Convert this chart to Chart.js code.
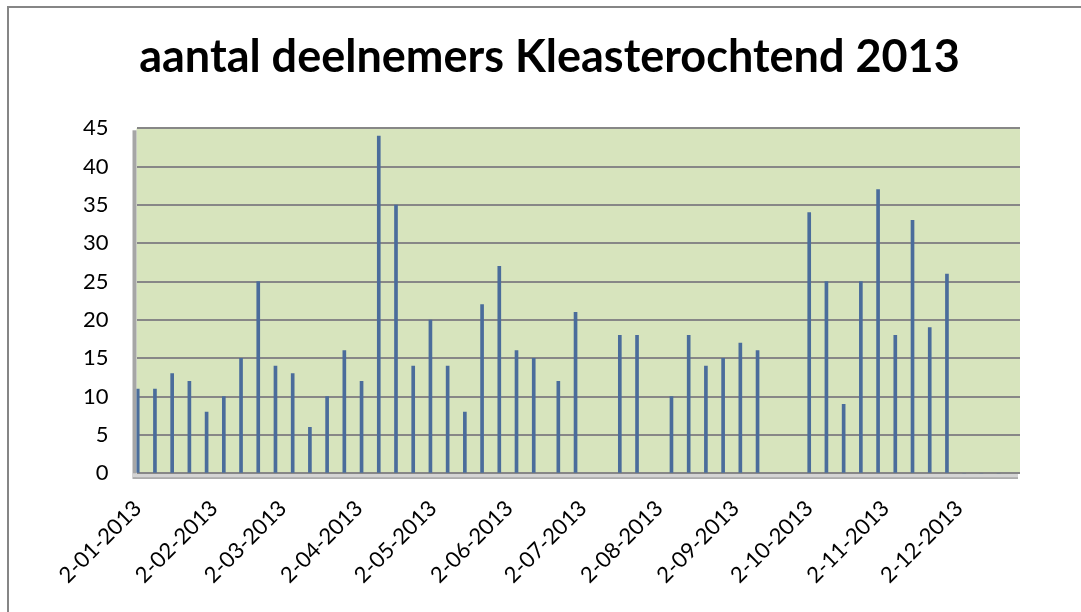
<!DOCTYPE html>
<html>
<head>
<meta charset="utf-8">
<script src="https://cdn.jsdelivr.net/npm/chart.js@4.4.0/dist/chart.umd.min.js"></script>
<style>
html, body { margin: 0; padding: 0; background: #fff; }
</style>
</head>
<body>
<canvas id="chart" width="1081" height="612"></canvas>
<script>
// data
const dates = [
    '2013-01-02', '2013-01-09', '2013-01-16', '2013-01-23', '2013-01-30',
    '2013-02-06', '2013-02-13', '2013-02-20', '2013-02-27',
    '2013-03-06', '2013-03-13', '2013-03-20', '2013-03-27',
    '2013-04-03', '2013-04-10', '2013-04-17', '2013-04-24',
    '2013-05-01', '2013-05-08', '2013-05-15', '2013-05-22', '2013-05-29',
    '2013-06-05', '2013-06-12', '2013-06-22', '2013-06-29',
    '2013-07-17', '2013-07-24',
    '2013-08-07', '2013-08-14', '2013-08-21', '2013-08-28',
    '2013-09-04', '2013-09-11',
    '2013-10-02', '2013-10-09', '2013-10-16', '2013-10-23', '2013-10-30',
    '2013-11-06', '2013-11-13', '2013-11-20', '2013-11-27',
    '2013-12-04', '2013-12-11', '2013-12-18'
];
const deelnemers = [
    11, 11, 13, 12, 8,
    10, 15, 25, 14,
    13, 6, 10, 16,
    12, 44, 35, 14,
    20, 14, 8, 22, 27,
    16, 15, 12, 21,
    18, 18,
    10, 18, 14, 15,
    17, 16,
    34, 25, 9, 25, 37,
    18, 33, 19, 26,
    0, 0, 0
];
const tickDates = [
    '2013-01-02', '2013-02-02', '2013-03-02', '2013-04-02', '2013-05-02', '2013-06-02',
    '2013-07-02', '2013-08-02', '2013-09-02', '2013-10-02', '2013-11-02', '2013-12-02'
];
const yTicks = [0, 5, 10, 15, 20, 25, 30, 35, 40, 45];

const startDay = Date.UTC(2013, 0, 2);
const DAY = 86400000;

function dayIndex(s) {
    const [y, m, d] = s.split('-').map(Number);
    return (Date.UTC(y, m - 1, d) - startDay) / DAY;
}

function formatDay(n) {
    const dt = new Date(startDay + n * DAY);
    return dt.getUTCDate() + '-' + String(dt.getUTCMonth() + 1).padStart(2, '0') + '-' + dt.getUTCFullYear();
}

const excelLook = {
    id: 'excelLook',
    beforeDraw(chart) {
        const { ctx, chartArea: a } = chart;
        ctx.save();
        ctx.fillStyle = '#fff';
        ctx.fillRect(0, 0, chart.width, chart.height);
        // outer chart border
        ctx.strokeStyle = '#868686';
        ctx.lineWidth = 2;
        ctx.beginPath();
        ctx.moveTo(8, chart.height + 2);
        ctx.lineTo(8, 7);
        ctx.lineTo(chart.width + 2, 7);
        ctx.stroke();
        // back wall
        ctx.fillStyle = '#d7e4bd';
        ctx.fillRect(a.left, a.top, a.right - a.left, a.bottom - a.top);
        // side wall and floor
        ctx.fillStyle = '#a6a6a6';
        ctx.fillRect(a.left - 4, a.top + 2, 4, a.bottom - a.top + 2);
        ctx.fillStyle = '#d4d4d4';
        ctx.fillRect(a.left - 4, a.bottom, a.right - a.left + 2, 4);
        ctx.fillStyle = '#9a9a9a';
        ctx.fillRect(a.left - 4, a.bottom + 4, a.right - a.left + 2, 1.5);
        ctx.restore();
    }
};

new Chart('chart', {
    type: 'bar',
    data: {
        datasets: [{
            label: 'deelnemers',
            data: dates.map((d, i) => ({ x: dayIndex(d), y: deelnemers[i] })),
            backgroundColor: '#4a6c9b',
            borderWidth: 0,
            barThickness: 3
        }]
    },
    options: {
        responsive: false,
        animation: false,
        layout: { padding: { left: 18, right: 0, top: 0, bottom: 0 } },
        plugins: {
            legend: { display: false },
            tooltip: { enabled: false },
            title: {
                display: true,
                text: 'aantal deelnemers Kleasterochtend 2013',
                color: '#000',
                font: { family: 'Lato', size: 45, weight: 'bold', lineHeight: 1.2 },
                padding: { top: 30, bottom: 44.3 }
            }
        },
        scales: {
            x: {
                type: 'linear',
                offset: false,
                min: -0.5,
                max: 358.7,
                grid: { display: false },
                border: { display: false },
                afterBuildTicks: scale => {
                    scale.ticks = tickDates.map(d => ({ value: dayIndex(d) }));
                },
                afterFit: scale => { scale.height = 138.7; },
                ticks: {
                    autoSkip: false,
                    minRotation: 45,
                    maxRotation: 45,
                    padding: 14,
                    color: '#000',
                    font: { family: 'Lato', size: 22 },
                    callback: value => formatDay(value)
                }
            },
            y: {
                min: 0,
                max: 45,
                afterBuildTicks: scale => {
                    scale.ticks = yTicks.map(v => ({ value: v }));
                },
                afterFit: scale => { scale.width = 118.5; },
                grid: { color: '#878787', lineWidth: 2, drawTicks: false },
                border: { display: false },
                ticks: {
                    padding: 28,
                    color: '#000',
                    font: { family: 'Lato', size: 22 }
                }
            },
            // empty strip on the right, keeps the plot edge where the reference has it
            yRight: {
                position: 'right',
                min: 0,
                max: 45,
                grid: { display: false },
                border: { display: false },
                ticks: { display: false },
                afterFit: scale => { scale.width = 61; }
            }
        }
    },
    plugins: [excelLook]
});
</script>
</body>
</html>
